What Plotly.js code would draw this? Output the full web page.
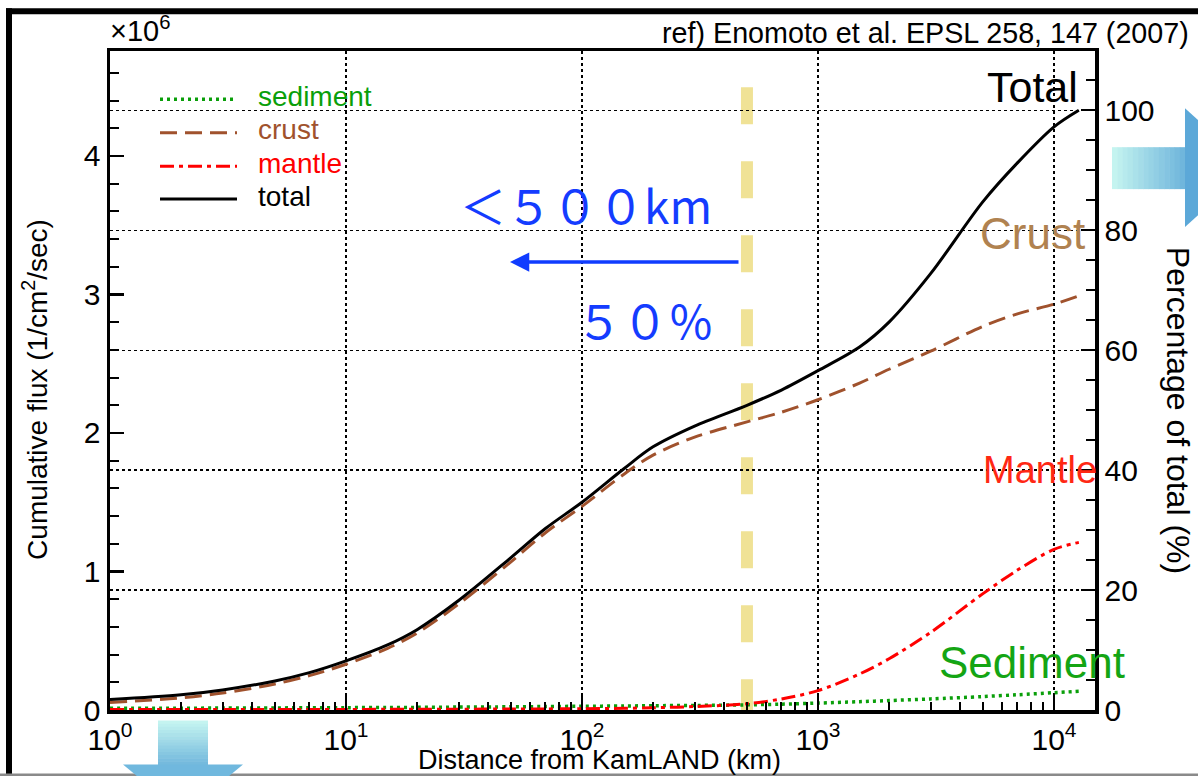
<!DOCTYPE html>
<html><head><meta charset="utf-8">
<script src="https://cdn.plot.ly/plotly-3.0.1.min.js"></script>
<style>html,body{margin:0;padding:0;background:#fff}#chart{width:1198px;height:776px}</style>
</head><body><div id="chart"></div>
<script>
// ---- data (cumulative flux, units of 1e6 /cm^2/sec) ----
const distanceKm = [1, 2, 3, 5, 7, 10, 15, 20, 30, 50, 70, 100, 150, 200, 300, 500, 700, 1000, 1500, 2000, 3000, 5000, 7000, 10000, 12742];
const sediment   = [0.012, 0.013, 0.014, 0.015, 0.016, 0.017, 0.018, 0.019, 0.021, 0.023, 0.025, 0.027, 0.029, 0.031, 0.033, 0.037, 0.042, 0.05, 0.06, 0.068, 0.08, 0.097, 0.11, 0.125, 0.135];
const crust      = [0.055, 0.088, 0.122, 0.188, 0.248, 0.33, 0.445, 0.555, 0.765, 1.07, 1.28, 1.47, 1.70, 1.84, 1.97, 2.08, 2.15, 2.24, 2.36, 2.46, 2.59, 2.77, 2.86, 2.93, 2.99];
const mantle     = [0.003, 0.003, 0.003, 0.004, 0.004, 0.004, 0.005, 0.005, 0.006, 0.007, 0.008, 0.009, 0.012, 0.016, 0.025, 0.045, 0.08, 0.14, 0.26, 0.37, 0.56, 0.84, 1.01, 1.16, 1.21];
const total      = [0.075, 0.11, 0.145, 0.21, 0.27, 0.355, 0.47, 0.58, 0.79, 1.10, 1.31, 1.50, 1.74, 1.90, 2.05, 2.20, 2.31, 2.45, 2.62, 2.80, 3.15, 3.67, 3.95, 4.21, 4.33];
const seriesNames  = ['sediment', 'crust', 'mantle', 'total'];
const seriesColors = ['#0a9f0a', '#a0522d', '#ff0000', '#000000'];
const seriesDash   = ['3px,4px', '17px,8px', '14px,5px,4px,5px', 'solid'];
const xTickVals  = [1, 10, 100, 1000, 10000];
const xTickText  = ['10<sup>0</sup>', '10<sup>1</sup>', '10<sup>2</sup>', '10<sup>3</sup>', '10<sup>4</sup>'];
const cutoffKm   = 500;

// ---- geometry helpers (pixel -> paper) ----
const L = 110, R = 1095, T = 50.7, B = 710.5;
const px = x => (x - L) / (R - L);
const py = y => (B - y) / (B - T);
const FONT = 'Liberation Sans, Arial, Helvetica, sans-serif';
const JP = 'Noto Sans CJK JP, Liberation Sans, sans-serif';

const seriesData = [sediment, crust, mantle, total];
const traces = seriesData.map((ys, i) => ({
  x: distanceKm, y: ys, name: seriesNames[i], mode: 'lines', showlegend: false,
  line: {color: seriesColors[i], width: i === 0 ? 3.5 : 3, dash: seriesDash[i], shape: 'spline', smoothing: 0.9}
}));
traces.push({x: [distanceKm[0]], y: [0], yaxis: 'y2', mode: 'none', showlegend: false, hoverinfo: 'skip'});

const totalMax = total[total.length - 1];
const yTop = (B - T) / ((B - 110) / totalMax);  // top of left axis in 1e6 units

const shapes = [];
// yellow dashed 500 km marker
shapes.push({type: 'line', xref: 'x', yref: 'y', x0: cutoffKm, x1: cutoffKm, y0: (B - 87) / (B - T) * yTop, y1: 0,
  line: {color: 'rgb(240,226,150)', width: 12, dash: '37px,37px'}, layer: 'below'});
// slide frame
shapes.push({type: 'rect', xref: 'paper', yref: 'paper', x0: px(6), x1: px(1200), y0: py(8), y1: py(14), fillcolor: '#000', line: {width: 0}});
shapes.push({type: 'rect', xref: 'paper', yref: 'paper', x0: px(6), x1: px(12), y0: py(8), y1: py(780), fillcolor: '#000', line: {width: 0}});
shapes.push({type: 'rect', xref: 'paper', yref: 'paper', x0: px(0), x1: px(1200), y0: py(774), y1: py(777), fillcolor: '#8a8a8a', line: {width: 0}});
// gradient arrows (decoration)
const c0 = [196, 244, 240], c1 = [96, 170, 216];
const mix = (t) => 'rgb(' + c0.map((v, i) => Math.round(v + (c1[i] - v) * t)).join(',') + ')';
const N = 14;
for (let i = 0; i < N; i++) {
  const a = 1112 + (1185 - 1112) * i / N, b = 1112 + (1185 - 1112) * (i + 1) / N + 0.5;
  shapes.push({type: 'rect', xref: 'paper', yref: 'paper', x0: px(a), x1: px(b), y0: py(147), y1: py(189), fillcolor: mix(i / N * 0.9), line: {width: 0}});
  const c = 721 + (765 - 721) * i / N, d = 721 + (765 - 721) * (i + 1) / N + 0.5;
  shapes.push({type: 'rect', xref: 'paper', yref: 'paper', x0: px(158), x1: px(208), y0: py(c), y1: py(d), fillcolor: mix(i / N * 0.85), line: {width: 0}});
}
shapes.push({type: 'path', xref: 'paper', yref: 'paper', fillcolor: 'rgb(92,168,216)', line: {width: 0},
  path: `M${px(1185)},${py(108)} L${px(1185)},${py(227)} L${px(1250)},${py(167.5)} Z`});
shapes.push({type: 'path', xref: 'paper', yref: 'paper', fillcolor: 'rgb(112,184,222)', line: {width: 0},
  path: `M${px(123)},${py(765)} L${px(243)},${py(765)} L${px(183)},${py(815)} Z`});

// legend (drawn with line samples + labels)
const legendRowY = [99, 132.5, 166, 199];
const annotations = [];
seriesNames.forEach((nm, i) => {
  shapes.push({type: 'line', xref: 'paper', yref: 'paper', x0: px(160), x1: px(237), y0: py(legendRowY[i]), y1: py(legendRowY[i]),
    line: {color: seriesColors[i], width: i === 0 ? 3.5 : 3, dash: seriesDash[i]}});
  annotations.push({xref: 'paper', yref: 'paper', x: px(256), y: py(legendRowY[i] - 3), xanchor: 'left', yanchor: 'middle', showarrow: false,
    text: nm, font: {family: FONT, size: 28, color: seriesColors[i]}});
});

annotations.push(
  {xref: 'paper', yref: 'paper', x: px(108), y: py(29), xanchor: 'left', yanchor: 'middle', showarrow: false,
   text: '×10<sup>6</sup>', font: {family: FONT, size: 29, color: '#000'}},
  {xref: 'paper', yref: 'paper', x: px(1191), y: py(33), xanchor: 'right', yanchor: 'middle', showarrow: false,
   text: 'ref) Enomoto et al. EPSL 258, 147 (2007)', font: {family: FONT, size: 28.7, color: '#000'}},
  {xref: 'paper', yref: 'paper', x: px(1080), y: py(87), xanchor: 'right', yanchor: 'middle', showarrow: false,
   text: 'Total', font: {family: FONT, size: 43, color: '#000'}},
  {xref: 'paper', yref: 'paper', x: px(1087), y: py(233), xanchor: 'right', yanchor: 'middle', showarrow: false,
   text: 'Crust', font: {family: FONT, size: 44, color: 'rgb(176,130,80)'}},
  {xref: 'paper', yref: 'paper', x: px(1099), y: py(470), xanchor: 'right', yanchor: 'middle', showarrow: false,
   text: 'Mantle', font: {family: FONT, size: 38, color: 'rgb(255,40,20)'}},
  {xref: 'paper', yref: 'paper', x: px(1127), y: py(663), xanchor: 'right', yanchor: 'middle', showarrow: false,
   text: 'Sediment', font: {family: FONT, size: 44, color: 'rgb(20,165,20)'}},
  {xref: 'paper', yref: 'paper', x: px(458), y: py(204), xanchor: 'left', yanchor: 'middle', showarrow: false,
   text: '＜５００km', font: {family: JP, size: 46, color: 'rgb(20,60,255)'}},
  {xref: 'paper', yref: 'paper', x: px(574), y: py(319), xanchor: 'left', yanchor: 'middle', showarrow: false,
   text: '５０％', font: {family: JP, size: 46, color: 'rgb(20,60,255)'}},
  {xref: 'x', yref: 'y', axref: 'x', ayref: 'y', x: (510 - L) / 236, y: (B - 262) / (B - T) * yTop,
   ax: (740 - L) / 236, ay: (B - 262) / (B - T) * yTop, text: '', showarrow: true,
   arrowhead: 2, arrowsize: 1.1, arrowwidth: 3.5, arrowcolor: 'rgb(16,60,255)', standoff: 0, startstandoff: 0},
  {xref: 'paper', yref: 'paper', x: px(599), y: py(761), xanchor: 'center', yanchor: 'middle', showarrow: false,
   text: 'Distance from KamLAND (km)', font: {family: FONT, size: 27, color: '#000'}},
  {xref: 'paper', yref: 'paper', x: px(35), y: py(390), xanchor: 'center', yanchor: 'middle', showarrow: false, textangle: -90,
   text: 'Cumulative flux (1/cm<sup>2</sup>/sec)', font: {family: FONT, size: 28, color: '#000'}},
  {xref: 'paper', yref: 'paper', x: px(1178), y: py(410), xanchor: 'center', yanchor: 'middle', showarrow: false, textangle: 90,
   text: 'Percentage of total (%)', font: {family: FONT, size: 32, color: '#000'}}
);

const tickFont = {family: FONT, size: 30, color: '#000'};
const layout = {
  width: 1198, height: 776,
  margin: {l: L, r: 1198 - R, t: T, b: 776 - B, pad: 0},
  paper_bgcolor: '#fff', plot_bgcolor: '#fff',
  font: {family: FONT, size: 26, color: '#000'},
  showlegend: false,
  xaxis: {type: 'log', range: [0, (R - L) / 236], tickmode: 'array', tickvals: xTickVals, ticktext: xTickText,
          ticks: 'inside', ticklen: 14, tickwidth: 2.5, tickcolor: '#000',
          showline: true, linewidth: 3.5, linecolor: '#000', mirror: true,
          showgrid: true, gridcolor: '#000', gridwidth: 1.2, griddash: '3px,3px',
          minor: {dtick: 'D1', ticks: 'inside', ticklen: 8, tickwidth: 2, tickcolor: '#000', showgrid: false},
          tickfont: tickFont, zeroline: false, fixedrange: true},
  yaxis: {range: [0, yTop], dtick: 1, tick0: 0, ticks: 'inside', ticklen: 14, tickwidth: 2.5, tickcolor: '#000',
          minor: {dtick: 0.2, tick0: 0, ticks: 'inside', ticklen: 9, tickwidth: 2, tickcolor: '#000', showgrid: false},
          showline: true, linewidth: 3.5, linecolor: '#000', showgrid: false, zeroline: false,
          tickfont: tickFont, fixedrange: true},
  yaxis2: {overlaying: 'y', side: 'right', range: [0, yTop / totalMax * 100], dtick: 20, tick0: 0,
           ticks: 'inside', ticklen: 14, tickwidth: 2.5, tickcolor: '#000',
           minor: {dtick: 5, tick0: 0, ticks: 'inside', ticklen: 9, tickwidth: 2, tickcolor: '#000', showgrid: false},
           showline: true, linewidth: 3.5, linecolor: '#000',
           showgrid: true, gridcolor: '#000', gridwidth: 1.2, griddash: '3px,3px', zeroline: false,
           tickfont: tickFont, fixedrange: true},
  shapes: shapes,
  annotations: annotations
};

Plotly.newPlot('chart', traces, layout, {staticPlot: true, displayModeBar: false});
</script>
</body></html>
